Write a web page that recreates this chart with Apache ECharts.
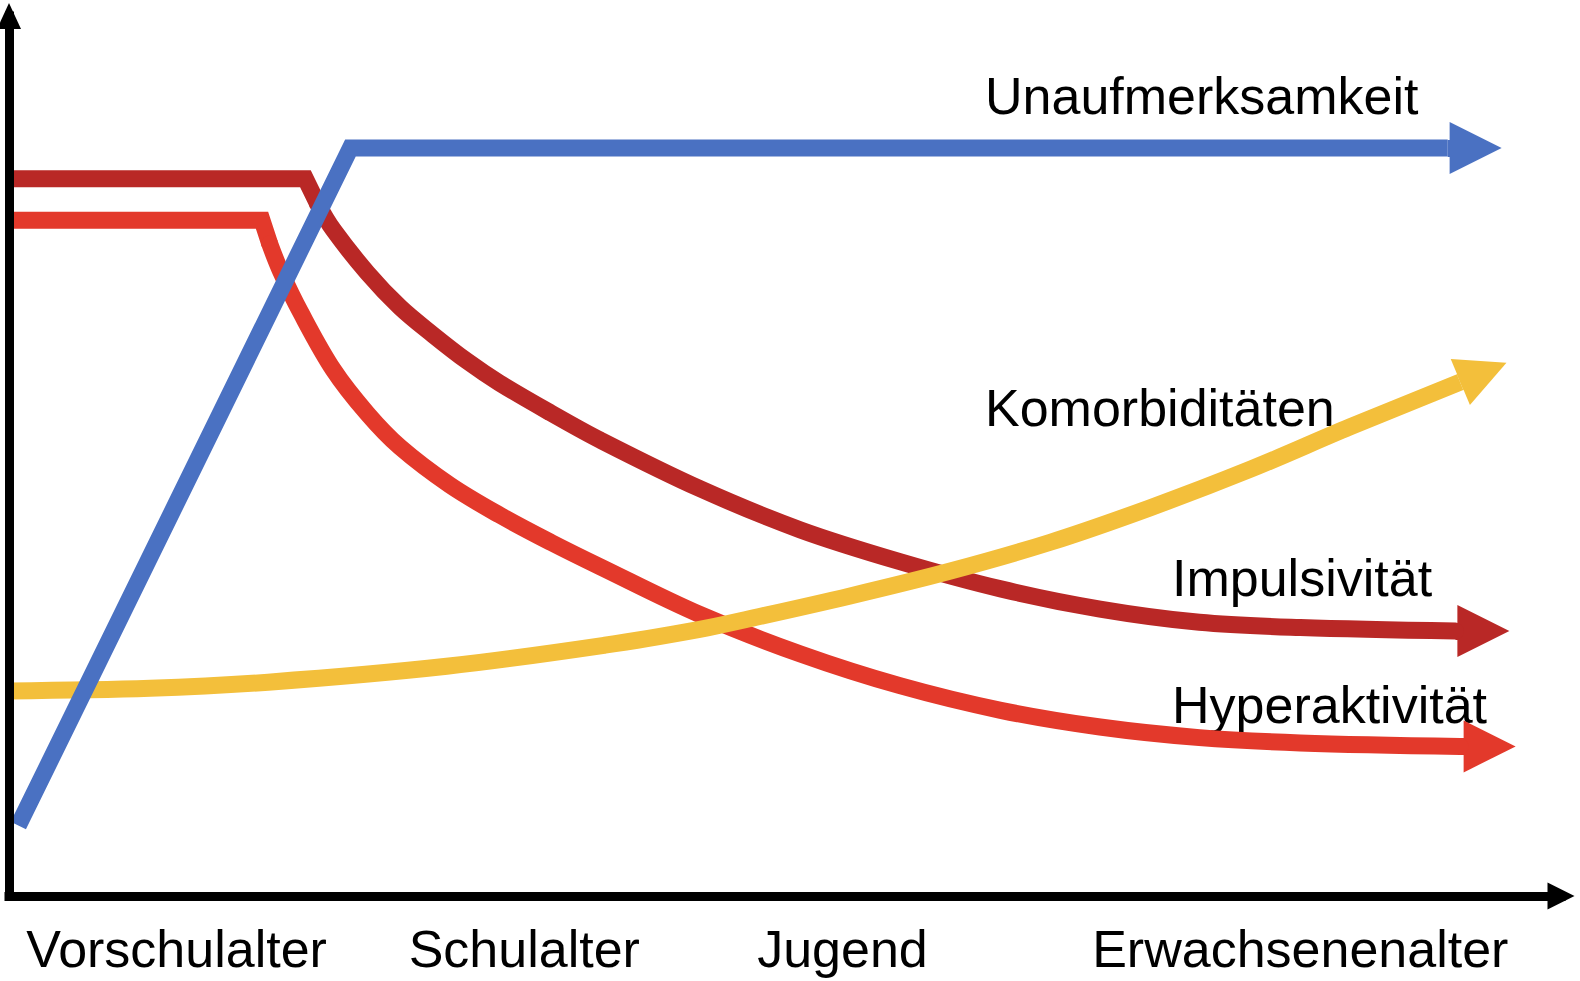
<!DOCTYPE html>
<html>
<head>
<meta charset="utf-8">
<script src="https://cdn.jsdelivr.net/npm/echarts@6/dist/echarts.min.js"></script>
<style>
html,body{margin:0;padding:0;background:#ffffff;}
#chart{width:1580px;height:981px;}
</style>
</head>
<body>
<div id="chart"></div>
<script>
// ---- data (x: life stage timeline 0..100, y: symptom intensity 0..100) ----
const stageNames = ['Vorschulalter', 'Schulalter', 'Jugend', 'Erwachsenenalter'];
const stageValues = [10.8, 33.2, 53.7, 83.2];

const seriesNames = ['Unaufmerksamkeit', 'Komorbiditäten', 'Impulsivität', 'Hyperaktivität'];

const unaufmerksamkeit = [[0.6, 8.0], [22.0, 85.0], [92.7, 85.0]];
const unaufmerksamkeitArrow = [[92.7, 85.0], [94.5, 85.0]];

const komorbiditaeten = [[0, 23.3], [9.1, 23.6], [16.7, 24.3], [28.2, 26.1], [38.4, 28.5], [44.5, 30.3],
  [47.7, 31.5], [54.2, 34.1], [60.6, 36.9], [67.1, 40.2], [73.5, 44.1], [80.0, 48.5], [86.4, 53.3], [93.5, 58.4]];
const komorbiditaetenArrow = [[93.5, 58.4], [95.0, 59.5]];

const impulsivitaetPlateau = [[0, 81.5], [19.1, 81.5], [19.9, 78.6]];
const impulsivitaetDecline = [[19.9, 78.6], [20.9, 75.7], [23.1, 70.8], [25.2, 66.9], [27.3, 63.8], [29.5, 60.8],
  [31.6, 58.3], [34.9, 54.9], [38.1, 51.8], [44.5, 46.3], [51.0, 41.6], [57.4, 38.0], [63.9, 34.9],
  [70.3, 32.6], [76.7, 31.1], [83.2, 30.5], [93.2, 30.1]];
const impulsivitaetArrow = [[93.2, 30.1], [95.0, 30.1]];

const hyperaktivitaetPlateau = [[0, 76.8], [16.3, 76.8], [16.8, 74.1]];
const hyperaktivitaetDecline = [[16.8, 74.1], [17.5, 71.0], [18.8, 66.3], [20.9, 59.8], [23.1, 54.8], [25.2, 51.0],
  [28.4, 46.7], [31.6, 43.3], [34.9, 40.2], [38.1, 37.4], [44.5, 32.0], [51.0, 27.5], [57.4, 23.9],
  [63.9, 21.1], [70.3, 19.2], [76.7, 18.0], [83.2, 17.4], [93.5, 17.0]];
const hyperaktivitaetArrow = [[93.5, 17.0], [95.4, 17.0]];

// ---- styles ----
const COLORS = { blue: '#4A71C2', yellow: '#F3BF3B', darkred: '#B92826', red: '#E3392B' };
const FONT = '"Liberation Sans", Arial, Helvetica, sans-serif';
const LW = 17;
const SMOOTH = 0.35;

function bodyLine(name, data, color, smooth, cap) {
  return {
    type: 'line', name: name, data: data, smooth: smooth, showSymbol: false, symbol: 'none',
    silent: true, animation: false,
    lineStyle: { color: color, width: LW, cap: cap, join: 'miter', opacity: 1 }
  };
}
function arrowHead(name, coords, color, size) {
  return {
    type: 'lines', name: name, coordinateSystem: 'cartesian2d', silent: true, animation: false,
    symbol: ['none', 'triangle'], symbolSize: size,
    lineStyle: { color: color, width: LW, opacity: 1, curveness: 0, cap: 'butt' },
    data: [{ coords: coords }]
  };
}

const chart = echarts.init(document.getElementById('chart'), null, { renderer: 'svg' });

chart.setOption({
  backgroundColor: '#ffffff',
  animation: false,
  grid: { left: 9, right: 19, top: 16, bottom: 85, containLabel: false, outerBoundsMode: 'none' },
  xAxis: {
    type: 'value', min: 0, max: 100, z: 10,
    axisLine: { show: true, onZero: false, symbol: ['none', 'triangle'], symbolSize: [27, 27],
      lineStyle: { color: '#000', width: 9, cap: 'square' } },
    axisTick: { show: false },
    splitLine: { show: false },
    axisLabel: {
      show: true, customValues: stageValues, margin: 27,
      color: '#000', fontSize: 52, fontFamily: FONT,
      formatter: function (v) {
        let best = 0;
        for (let i = 1; i < stageValues.length; i++) {
          if (Math.abs(stageValues[i] - v) < Math.abs(stageValues[best] - v)) best = i;
        }
        return stageNames[best];
      }
    }
  },
  yAxis: {
    type: 'value', min: 0, max: 100, z: 10,
    axisLine: { show: true, onZero: false, symbol: ['none', 'triangle'], symbolSize: [24, 26],
      lineStyle: { color: '#000', width: 9, cap: 'square' } },
    axisTick: { show: false },
    splitLine: { show: false },
    axisLabel: { show: false }
  },
  graphic: [
    { type: 'text', x: 985, y: 96, silent: true,
      style: { text: seriesNames[0], font: '52px ' + FONT, fill: '#000', align: 'left', verticalAlign: 'middle' } },
    { type: 'text', x: 985, y: 408, silent: true,
      style: { text: seriesNames[1], font: '52px ' + FONT, fill: '#000', align: 'left', verticalAlign: 'middle' } },
    { type: 'text', x: 1172, y: 578, silent: true,
      style: { text: seriesNames[2], font: '52px ' + FONT, fill: '#000', align: 'left', verticalAlign: 'middle' } },
    { type: 'text', x: 1172, y: 705, silent: true,
      style: { text: seriesNames[3], font: '52px ' + FONT, fill: '#000', align: 'left', verticalAlign: 'middle' } }
  ],
  series: [
    bodyLine(seriesNames[2], impulsivitaetPlateau, COLORS.darkred, false, 'butt'),
    bodyLine(seriesNames[2], impulsivitaetDecline, COLORS.darkred, SMOOTH, 'round'),
    arrowHead(seriesNames[2], impulsivitaetArrow, COLORS.darkred, 52),

    bodyLine(seriesNames[3], hyperaktivitaetPlateau, COLORS.red, false, 'butt'),
    bodyLine(seriesNames[3], hyperaktivitaetDecline, COLORS.red, SMOOTH, 'round'),
    arrowHead(seriesNames[3], hyperaktivitaetArrow, COLORS.red, 52),

    bodyLine(seriesNames[1], komorbiditaeten, COLORS.yellow, SMOOTH, 'butt'),
    arrowHead(seriesNames[1], komorbiditaetenArrow, COLORS.yellow, 50),

    bodyLine(seriesNames[0], unaufmerksamkeit, COLORS.blue, false, 'butt'),
    arrowHead(seriesNames[0], unaufmerksamkeitArrow, COLORS.blue, 52)
  ]
});
</script>
</body>
</html>
